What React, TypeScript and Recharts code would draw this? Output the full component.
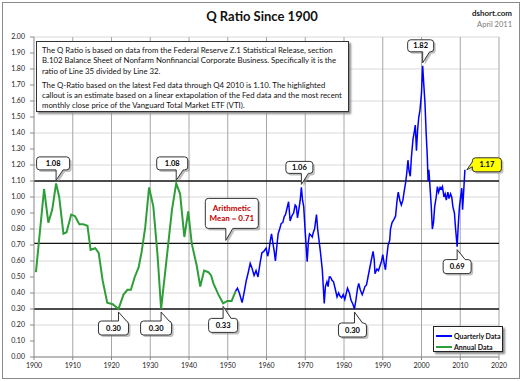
import React from 'react';
import {
  ComposedChart,
  Line,
  XAxis,
  YAxis,
  CartesianGrid,
  ReferenceLine,
  ReferenceDot,
  Legend,
} from 'recharts';

// ---------- data ----------
const annualYears = [
  1900.5, 1902.6, 1903.7, 1904.7, 1905.7, 1906.5, 1907.6, 1908.4, 1909.6, 1910.6,
  1911.7, 1912.7, 1913.8, 1914.6, 1915.8, 1916.7, 1917.7, 1918.9, 1920.3, 1921.8,
  1923.1, 1924.1, 1925.0, 1926.0, 1927.0, 1927.8, 1928.7, 1929.7, 1930.8, 1931.9,
  1932.8, 1934.3, 1935.6, 1936.7, 1937.7, 1938.8, 1939.8, 1940.7, 1942.0, 1942.9,
  1943.9, 1945.0, 1945.7, 1946.3, 1947.6, 1948.8, 1949.9, 1951.0, 1952.0,
];
const annualValues = [
  0.53, 1.05, 0.84, 0.92, 1.085, 1.0, 0.77, 0.78, 0.89, 0.88,
  0.83, 0.83, 0.82, 0.67, 0.68, 0.65, 0.48, 0.34, 0.33, 0.3,
  0.39, 0.42, 0.42, 0.5, 0.56, 0.66, 0.81, 1.06, 0.94, 0.63,
  0.3, 0.63, 0.92, 1.085, 1.02, 0.75, 0.91, 0.71, 0.57, 0.44,
  0.54, 0.53, 0.51, 0.46, 0.39, 0.335, 0.35, 0.35, 0.41,
];

const quarterlyYears = [
  1952.0, 1952.5, 1953.0, 1953.7, 1954.2, 1954.8, 1955.3, 1955.8, 1956.2, 1956.8,
  1957.3, 1957.8, 1958.3, 1958.8, 1959.3, 1959.9, 1960.3, 1960.6, 1961.0, 1961.3,
  1961.6, 1962.0, 1962.3, 1962.7, 1963.0, 1963.4, 1963.8, 1964.2, 1964.6, 1964.9,
  1965.3, 1965.7, 1966.1, 1966.5, 1967.0, 1967.4, 1967.7, 1968.0, 1968.4, 1968.7,
  1969.0, 1969.3, 1969.6, 1970.0, 1970.5, 1970.8, 1971.1, 1971.5, 1971.8, 1972.1,
  1972.4, 1972.9, 1973.2, 1973.5, 1973.9, 1974.4, 1974.9, 1975.2, 1975.6, 1975.9,
  1976.2, 1976.5, 1976.9, 1977.3, 1977.7, 1978.2, 1978.6, 1979.0, 1979.4, 1979.8,
  1980.2, 1980.6, 1980.9, 1981.4, 1981.8, 1982.3, 1982.7, 1983.1, 1983.5, 1983.8,
  1984.2, 1984.7, 1985.0, 1985.4, 1985.8, 1986.2, 1986.6, 1987.0, 1987.5, 1987.8,
  1988.0, 1988.5, 1988.9, 1989.3, 1989.7, 1990.0, 1990.4, 1990.7, 1991.0, 1991.4,
  1991.8, 1992.0, 1992.4, 1992.9, 1993.3, 1993.7, 1994.0, 1994.4, 1994.8, 1995.2,
  1995.5, 1995.9, 1996.2, 1996.5, 1996.8, 1997.1, 1997.4, 1997.8, 1998.1, 1998.4,
  1998.7, 1999.0, 1999.3, 1999.6, 2000.0, 2000.3, 2000.6, 2000.9, 2001.2, 2001.5,
  2001.7, 2001.9, 2002.2, 2002.5, 2002.8, 2003.1, 2003.4, 2003.8, 2004.1, 2004.4,
  2004.8, 2005.1, 2005.4, 2005.8, 2006.1, 2006.4, 2006.8, 2007.1, 2007.5, 2007.8,
  2008.1, 2008.5, 2008.8, 2009.2, 2009.5, 2009.8, 2010.1, 2010.4, 2010.6, 2010.9,
  2011.2,
];
const quarterlyValues = [
  0.41, 0.43, 0.4, 0.34, 0.4, 0.48, 0.53, 0.585, 0.56, 0.51,
  0.54, 0.5, 0.58, 0.65, 0.66, 0.68, 0.63, 0.66, 0.73, 0.77,
  0.72, 0.66, 0.6, 0.7, 0.77, 0.8, 0.835, 0.84, 0.88, 0.89,
  0.93, 0.97, 0.85, 0.88, 0.9, 0.95, 0.94, 0.87, 0.93, 0.98,
  1.06, 0.98, 0.94, 0.78, 0.595, 0.72, 0.77, 0.76, 0.75, 0.78,
  0.8, 0.89, 0.8, 0.74, 0.66, 0.545, 0.335, 0.44, 0.47, 0.44,
  0.5, 0.5, 0.48, 0.47, 0.43, 0.375, 0.4, 0.38, 0.37, 0.39,
  0.36, 0.4, 0.43, 0.4, 0.356, 0.33, 0.3, 0.36, 0.43, 0.46,
  0.42, 0.39, 0.41, 0.44, 0.45, 0.5, 0.55, 0.6, 0.66, 0.61,
  0.52, 0.55, 0.54, 0.57, 0.6, 0.64, 0.58, 0.545, 0.62, 0.7,
  0.73, 0.8, 0.84, 0.86, 0.88, 0.98, 1.03, 0.98, 0.95, 0.98,
  1.03, 1.09, 1.15, 1.23, 1.16, 1.13, 1.25, 1.36, 1.4, 1.45,
  1.29, 1.42, 1.5, 1.54, 1.65, 1.82, 1.7, 1.585, 1.4, 1.25,
  1.1, 1.17, 1.06, 0.95, 0.8, 0.84, 0.94, 1.0, 1.065, 1.03,
  1.06, 1.05, 1.065, 1.0, 1.02, 0.98, 1.03, 0.99, 1.02, 1.0,
  0.94, 0.9, 0.8, 0.69, 0.83, 0.94, 1.0, 1.055, 0.92, 1.04,
  1.17,
];

const xTicks = [1900, 1910, 1920, 1930, 1940, 1950, 1960, 1970, 1980, 1990, 2000, 2010, 2020];
const yTicks = [
  0, 0.1, 0.2, 0.3, 0.4, 0.5, 0.6, 0.7, 0.8, 0.9, 1.0,
  1.1, 1.2, 1.3, 1.4, 1.5, 1.6, 1.7, 1.8, 1.9, 2.0,
];
const levelValues = [1.1, 0.71, 0.3];

const calloutLabels = ['1.08', '1.08', '0.30', '0.30', '0.33', 'Arithmetic|Mean = 0.71', '1.06', '1.82', '0.30', '0.69', '1.17'];
const calloutYears = [1905.7, 1936.7, 1921.8, 1932.8, 1948.8, 1949.5, 1969.0, 2000.3, 1982.7, 2009.2, 2011.2];
const calloutValues = [1.085, 1.085, 0.3, 0.3, 0.335, 0.71, 1.06, 1.82, 0.3, 0.69, 1.17];

const titleText = 'Q Ratio Since 1900';
const sourceText = 'dshort.com';
const dateText = 'April 2011';
const noteLines = [
  'The Q Ratio is based on data from the Federal Reserve Z.1 Statistical Release, section',
  'B.102 Balance Sheet of Nonfarm Nonfinancial Corporate Business. Specifically it is the',
  'ratio of Line 35 divided by Line 32.',
  'The Q-Ratio based on the latest Fed data through Q4 2010  is 1.10.  The highlighted',
  'callout is an estimate based on a linear extapolation of the Fed data and the most recent',
  'monthly close price of the Vanguard Total Market ETF (VTI).',
];
const legendNames = ['Quarterly Data', 'Annual Data'];

// ---------- build ----------
const annualData = annualYears.map((y, i) => ({ year: y, q: annualValues[i] }));
const quarterlyData = quarterlyYears.map((y, i) => ({ year: y, q: quarterlyValues[i] }));

// ---------- styles ----------
const FONT = 'Lato, "Liberation Sans", sans-serif';
const BLUE = '#0000ff';
const GREEN = '#2e9e38';

// box center offset from anchor, size, tail side
const calloutStyles = [
  { dx: -3, dy: -20, w: 33, h: 13, side: 'bottom' },
  { dx: -4, dy: -20, w: 31, h: 13, side: 'bottom' },
  { dx: -5, dy: 19, w: 30, h: 14, side: 'top' },
  { dx: -5, dy: 19, w: 31, h: 14, side: 'top' },
  { dx: 0, dy: 22, w: 29, h: 14, side: 'top' },
  { dx: 6, dy: -30, w: 53, h: 30, side: 'bottom', color: '#c00000' },
  { dx: -2, dy: -20, w: 27, h: 12, side: 'bottom' },
  { dx: -2, dy: -20, w: 26, h: 12, side: 'bottom' },
  { dx: -2, dy: 21, w: 28, h: 14, side: 'top' },
  { dx: 0, dy: 20, w: 28, h: 14, side: 'top' },
  { dx: 22, dy: -5, w: 29, h: 14, side: 'left', fill: '#ffff00' },
];

function Callout(props: any) {
  const { cx, cy, label, st } = props;
  if (cx == null || cy == null) return null;
  const { dx, dy, w, h, side } = st;
  const fill = st.fill || '#ffffff';
  const color = st.color || '#000000';
  const bx = cx + dx - w / 2;
  const by = cy + dy - h / 2;
  let tip: [number, number];
  let b1: [number, number];
  let b2: [number, number];
  let i1: [number, number];
  let i2: [number, number];
  if (side === 'bottom') {
    tip = [cx, cy - 3];
    b1 = [cx, by + h];
    b2 = [cx + 7, by + h];
    i1 = [b1[0], by + h - 1.5];
    i2 = [b2[0], by + h - 1.5];
  } else if (side === 'top') {
    tip = [cx, cy + 3];
    b1 = [cx, by];
    b2 = [cx + 8, by];
    i1 = [b1[0], by + 1.5];
    i2 = [b2[0], by + 1.5];
  } else {
    tip = [cx + 2, cy];
    b1 = [bx, cy - 8];
    b2 = [bx, cy - 3];
    i1 = [bx + 1.5, b1[1]];
    i2 = [bx + 1.5, b2[1]];
  }
  const fillPoly = [i1, b1, tip, b2, i2].map((p) => p.join(',')).join(' ');
  const strokeLine = [b1, tip, b2].map((p) => p.join(',')).join(' ');
  const shadowPoly = [b1, tip, b2].map((p) => `${p[0] + 2},${p[1] + 2}`).join(' ');
  const lines = String(label).split('|');
  const lh = 10;
  return (
    <g>
      <rect x={bx + 2} y={by + 2} width={w} height={h} rx={3} fill="#8c8c8c" opacity={0.55} />
      <polygon points={shadowPoly} fill="#8c8c8c" opacity={0.55} />
      <rect x={bx} y={by} width={w} height={h} rx={3} fill={fill} stroke="#333" strokeWidth={1} />
      <polygon points={fillPoly} fill={fill} stroke="none" />
      <polyline points={strokeLine} fill="none" stroke="#333" strokeWidth={1} />
      {lines.map((t, i) => (
        <text
          key={i}
          x={bx + w / 2}
          y={by + h / 2 + (i - (lines.length - 1) / 2) * lh}
          textAnchor="middle"
          dominantBaseline="central"
          fontFamily={FONT}
          fontWeight="bold"
          fontSize={lines.length > 1 ? 8 : 7.5}
          fill={color}
        >
          {t}
        </text>
      ))}
    </g>
  );
}

function LegendBox() {
  const colors = [BLUE, GREEN];
  return (
    <div
      style={{
        width: 70,
        height: 26,
        border: '1px solid #222',
        background: '#fff',
        boxShadow: '2px 2px 2px #888',
        fontFamily: FONT,
        fontSize: 7,
        fontWeight: 'bold',
        color: '#111',
        boxSizing: 'border-box',
        paddingTop: 3,
      }}
    >
      {legendNames.map((n, i) => (
        <div key={n} style={{ display: 'flex', alignItems: 'center', height: 11, paddingLeft: 2 }}>
          <div style={{ width: 16, height: 2, background: colors[i], marginRight: 2 }} />
          <span>{n}</span>
        </div>
      ))}
    </div>
  );
}

export default function App() {
  return (
    <div style={{ position: 'absolute', left: 0, top: 0, width: 522, height: 381, background: '#fff' }}>
      <div
        style={{
          position: 'absolute',
          left: 2,
          top: 2,
          width: 516,
          height: 375,
          border: '1px solid #8a8a8a',
        }}
      />
      <ComposedChart
        width={522}
        height={381}
        margin={{ top: 37, right: 23, bottom: 8, left: 4 }}
        style={{ position: 'absolute', left: 0, top: 0 }}
      >
        <CartesianGrid vertical={false} stroke="#d9d9d9" strokeWidth={1} />
        <XAxis
          dataKey="year"
          type="number"
          domain={[1900, 2020]}
          ticks={xTicks}
          allowDataOverflow
          height={16}
          tickSize={3}
          tickMargin={3}
          stroke="#888"
          tick={{ fontSize: 7, fill: '#222', fontFamily: FONT }}
          tickFormatter={(v: number) => String(Math.round(v))}
        />
        <YAxis
          type="number"
          domain={[0, 2]}
          ticks={yTicks}
          width={30}
          tickSize={4}
          tickMargin={5}
          stroke="#888"
          tick={{ fontSize: 7, fill: '#222', fontFamily: FONT }}
          tickFormatter={(v: number) => v.toFixed(2)}
        />
        {xTicks.slice(1).map((x) => (
          <ReferenceLine key={'v' + x} x={x} stroke="#a6a6a6" strokeWidth={1} />
        ))}
        {levelValues.map((v) => (
          <ReferenceLine key={'h' + v} y={v} stroke="#111" strokeWidth={1.3} />
        ))}
        <Legend
          layout="vertical"
          align="center"
          verticalAlign="middle"
          wrapperStyle={{ position: 'absolute', left: 433, top: 326, width: 72, height: 28 }}
          content={() => <LegendBox />}
        />
        <Line
          data={annualData}
          dataKey="q"
          name={legendNames[1]}
          stroke={GREEN}
          strokeWidth={2}
          dot={false}
          isAnimationActive={false}
        />
        <Line
          data={quarterlyData}
          dataKey="q"
          name={legendNames[0]}
          stroke={BLUE}
          strokeWidth={1.5}
          dot={false}
          isAnimationActive={false}
        />
        {calloutLabels.map((lab, i) => (
          <ReferenceDot
            key={'c' + i}
            x={calloutYears[i]}
            y={calloutValues[i]}
            ifOverflow="visible"
            shape={(p: any) => <Callout cx={p.cx} cy={p.cy} label={lab} st={calloutStyles[i]} />}
          />
        ))}
      </ComposedChart>
      <div
        style={{
          position: 'absolute',
          left: 0,
          top: 8,
          width: 524,
          textAlign: 'center',
          fontFamily: FONT,
          fontWeight: 'bold',
          fontSize: 13,
          color: '#111',
        }}
      >
        {titleText}
      </div>
      <div
        style={{
          position: 'absolute',
          right: 10,
          top: 8,
          textAlign: 'right',
          fontFamily: FONT,
          lineHeight: '11px',
        }}
      >
        <div style={{ fontWeight: 'bold', fontSize: 8, color: '#222' }}>{sourceText}</div>
        <div style={{ fontSize: 7.5, color: '#7a7a7a' }}>{dateText}</div>
      </div>
      <div
        style={{
          position: 'absolute',
          left: 36,
          top: 41,
          width: 313,
          height: 71,
          boxSizing: 'border-box',
          border: '1px solid #333',
          background: '#fff',
          boxShadow: '2px 2px 2px #8a8a8a',
          fontFamily: FONT,
          fontSize: 7.8,
          color: '#111',
          padding: '3px 0 0 5px',
          lineHeight: '10.3px',
          whiteSpace: 'nowrap',
        }}
      >
        {noteLines.map((t, i) => (
          <div key={i} style={{ marginTop: i === 3 ? 4 : 0 }}>
            {t}
          </div>
        ))}
      </div>
    </div>
  );
}
